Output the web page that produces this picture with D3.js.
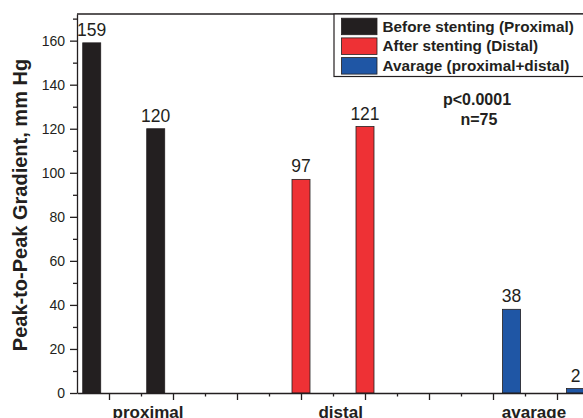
<!DOCTYPE html>
<html>
<head>
<meta charset="utf-8">
<script src="https://cdn.jsdelivr.net/npm/d3@7"></script>
<style>
  body { margin: 0; background: #fff; }
  svg { display: block; font-family: "Liberation Sans", Arial, Helvetica, sans-serif; }
</style>
</head>
<body>
<div id="chart"></div>
<script>
// Data
const seriesNames = ["Before stenting (Proximal)", "After stenting (Distal)", "Avarage (proximal+distal)"];
const seriesColors = ["#231f20", "#ee3135", "#1f56a5"];

const groups = ["proximal", "distal", "avarage"];
const groupPos = [1.61, 4.62, 7.64];

const barSeries = [0, 0, 1, 1, 2, 2];
const barPos = [0.73, 1.73, 4.0, 5.0, 7.29, 8.29];
const barValues = [159, 120, 97, 121, 38, 2];

const yTicks = [0, 20, 40, 60, 80, 100, 120, 140, 160];
const yMinorTicks = [10, 30, 50, 70, 90, 110, 130, 150, 170];
const xMajorTicks = [1, 2, 3, 4, 5, 6, 7, 8];
const xMinorTicks = [1.5, 2.5, 3.5, 4.5, 5.5, 6.5, 7.5];

const noteLines = ["p<0.0001", "n=75"];
const notePos = [[6.75, 131], [6.78, 121.5]];

const width = 583, height = 418;
const margin = { left: 77, top: 14, bottom: 25 };
const ink = "#231f20";

const svg = d3.select("#chart").append("svg")
  .attr("width", width)
  .attr("height", height);

const x = d3.scaleLinear().domain([0.5, 8.5]).range([margin.left, margin.left + 512]);
const y = d3.scaleLinear().domain([0, 172.1]).range([height - margin.bottom, margin.top]);
const barW = 18;

// bars
svg.append("g").selectAll("rect")
  .data(barValues)
  .join("rect")
  .attr("x", (d, i) => x(barPos[i]) - barW / 2)
  .attr("y", d => y(d))
  .attr("width", barW)
  .attr("height", d => y(0) - y(d))
  .attr("fill", (d, i) => seriesColors[barSeries[i]])
  .attr("stroke", ink)
  .attr("stroke-width", 0.8);

// value labels
svg.append("g").selectAll("text")
  .data(barValues)
  .join("text")
  .attr("x", (d, i) => x(barPos[i]))
  .attr("y", d => y(d) - 7)
  .attr("text-anchor", "middle")
  .attr("font-size", 17.5)
  .attr("fill", ink)
  .text(d => d);

// y axis
const yAxis = svg.append("g")
  .attr("transform", "translate(" + margin.left + ",0)")
  .call(d3.axisLeft(y).tickValues(yTicks).tickSize(7).tickPadding(5).tickSizeOuter(0));
yAxis.append("g")
  .call(d3.axisLeft(y).tickValues(yMinorTicks).tickSize(4).tickFormat("").tickSizeOuter(0))
  .select(".domain").remove();
yAxis.selectAll("text").attr("font-size", 14).attr("fill", ink).attr("font-family", null);
yAxis.selectAll("line, path").attr("stroke", ink).attr("stroke-width", 1.3);

// x axis
const xAxis = svg.append("g")
  .attr("transform", "translate(0," + y(0) + ")")
  .call(d3.axisBottom(x).tickValues(xMajorTicks).tickSize(7).tickFormat("").tickSizeOuter(0));
xAxis.append("g")
  .call(d3.axisBottom(x).tickValues(xMinorTicks).tickSize(3.5).tickFormat("").tickSizeOuter(0))
  .select(".domain").remove();
xAxis.selectAll("line, path").attr("stroke", ink).attr("stroke-width", 1.3);

// top frame line
svg.append("line")
  .attr("x1", margin.left).attr("x2", x(8.5))
  .attr("y1", y(172.1)).attr("y2", y(172.1))
  .attr("stroke", ink).attr("stroke-width", 1.3);

// group labels (cut by the bottom edge, as in the reference)
svg.append("g").selectAll("text")
  .data(groups)
  .join("text")
  .attr("x", (d, i) => x(groupPos[i]))
  .attr("y", 417.5)
  .attr("text-anchor", "middle")
  .attr("font-size", 17)
  .attr("font-weight", "bold")
  .attr("fill", ink)
  .text(d => d);

// y title
svg.append("text")
  .attr("transform", "translate(27," + 205 + ") rotate(-90)")
  .attr("text-anchor", "middle")
  .attr("font-size", 20)
  .attr("font-weight", "bold")
  .attr("fill", ink)
  .text("Peak-to-Peak Gradient, mm Hg");

// p / n annotation
svg.append("g").selectAll("text")
  .data(noteLines)
  .join("text")
  .attr("x", (d, i) => x(notePos[i][0]))
  .attr("y", (d, i) => y(notePos[i][1]))
  .attr("text-anchor", "middle")
  .attr("font-size", 16)
  .attr("font-weight", "bold")
  .attr("fill", ink)
  .text(d => d);

// legend
const legend = svg.append("g").attr("transform", "translate(334," + margin.top + ")");
legend.append("rect")
  .attr("x", 0).attr("y", 0)
  .attr("width", 260).attr("height", 62.5)
  .attr("fill", "#fff")
  .attr("stroke", ink).attr("stroke-width", 1.2);
const item = legend.selectAll("g.item")
  .data(seriesNames)
  .join("g")
  .attr("class", "item")
  .attr("transform", (d, i) => "translate(7.5," + (4.2 + i * 19.7) + ")");
item.append("rect")
  .attr("width", 35.5).attr("height", 16.5)
  .attr("fill", (d, i) => seriesColors[i])
  .attr("stroke", ink).attr("stroke-width", 0.8);
item.append("text")
  .attr("x", 41)
  .attr("y", 13.5)
  .attr("font-size", 15.3)
  .attr("font-weight", "bold")
  .attr("fill", ink)
  .text(d => d);
</script>
</body>
</html>
